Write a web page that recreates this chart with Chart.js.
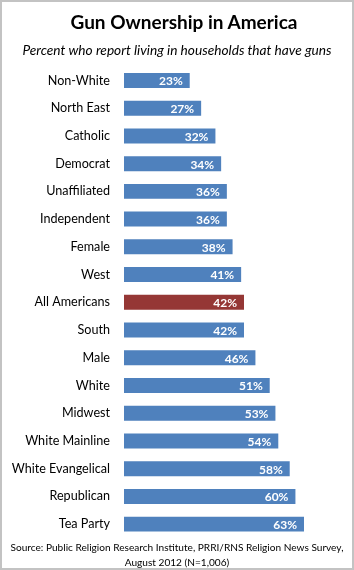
<!DOCTYPE html>
<html>
<head>
<meta charset="utf-8">
<script src="https://cdn.jsdelivr.net/npm/chart.js@4"></script>
<style>
  body { margin: 0; background: #fff; }
  #frame { position: relative; width: 354px; height: 570px; overflow: hidden; font-family: Lato, "Open Sans", sans-serif; }
  #frame::after { content: ""; position: absolute; inset: 0; border: 2px solid #c3c3c3; pointer-events: none; }
  #chart { position: absolute; left: 0; top: 0; }
  .title { position: absolute; left: 14px; width: 340px; top: 10px; text-align: center; font-weight: bold; font-size: 19px; color: #000; }
  .subtitle { position: absolute; left: 0; width: 354px; top: 41px; text-align: center; font-style: italic; font-size: 13.7px; color: #000; white-space: nowrap; }
  .source { position: absolute; left: 0; width: 354px; top: 540px; text-align: center; font-size: 10.1px; line-height: 15px; color: #000; white-space: nowrap; }
</style>
</head>
<body>
<div id="frame">
  <canvas id="chart" width="354" height="570"></canvas>
  <div class="title">Gun Ownership in America</div>
  <div class="subtitle">Percent who report living in households that have guns</div>
  <div class="source">Source: Public Religion Research Institute, PRRI/RNS Religion News Survey,<br>August 2012 (N=1,006)</div>
</div>
<script>
const groups = [
  "Non-White", "North East", "Catholic", "Democrat", "Unaffiliated", "Independent",
  "Female", "West", "All Americans", "South", "Male", "White", "Midwest",
  "White Mainline", "White Evangelical", "Republican", "Tea Party",
];
const gunShare = [23, 27, 32, 34, 36, 36, 38, 41, 42, 42, 46, 51, 53, 54, 58, 60, 63];
const highlightGroup = "All Americans";

const blue = "#4f81bd";
const red = "#953735";

// white percent labels just inside the end of each bar
const barLabels = {
  id: "barLabels",
  afterDatasetsDraw(chart) {
    const { ctx } = chart;
    const meta = chart.getDatasetMeta(0);
    ctx.save();
    ctx.fillStyle = "#fff";
    ctx.font = "bold 12px Lato, 'Open Sans', sans-serif";
    ctx.textAlign = "right";
    ctx.textBaseline = "middle";
    meta.data.forEach((bar, i) => {
      ctx.fillText(`${gunShare[i]}%`, bar.x - 7, bar.y + 1);
    });
    ctx.restore();
  },
};

new Chart(document.querySelector("#chart"), {
  type: "bar",
  data: {
    labels: groups,
    datasets: [
      {
        data: gunShare,
        backgroundColor: groups.map((g) => (g === highlightGroup ? red : blue)),
        borderWidth: 0,
        categoryPercentage: 1,
        barPercentage: 0.54,
      },
    ],
  },
  options: {
    indexAxis: "y",
    responsive: false,
    animation: false,
    layout: {
      padding: { top: 66.6, bottom: 32, left: 0, right: 30 },
    },
    plugins: {
      legend: { display: false },
      tooltip: { enabled: false },
    },
    scales: {
      x: {
        display: false,
        min: 0,
        max: 70,
      },
      y: {
        grid: { display: false, drawTicks: false },
        border: { display: false },
        ticks: {
          color: "#000",
          padding: 14,
          font: { family: "Lato, 'Open Sans', sans-serif", size: 12.6 },
        },
        afterFit: (scale) => {
          scale.width = 124;
        },
      },
    },
  },
  plugins: [barLabels],
});
</script>
</body>
</html>
